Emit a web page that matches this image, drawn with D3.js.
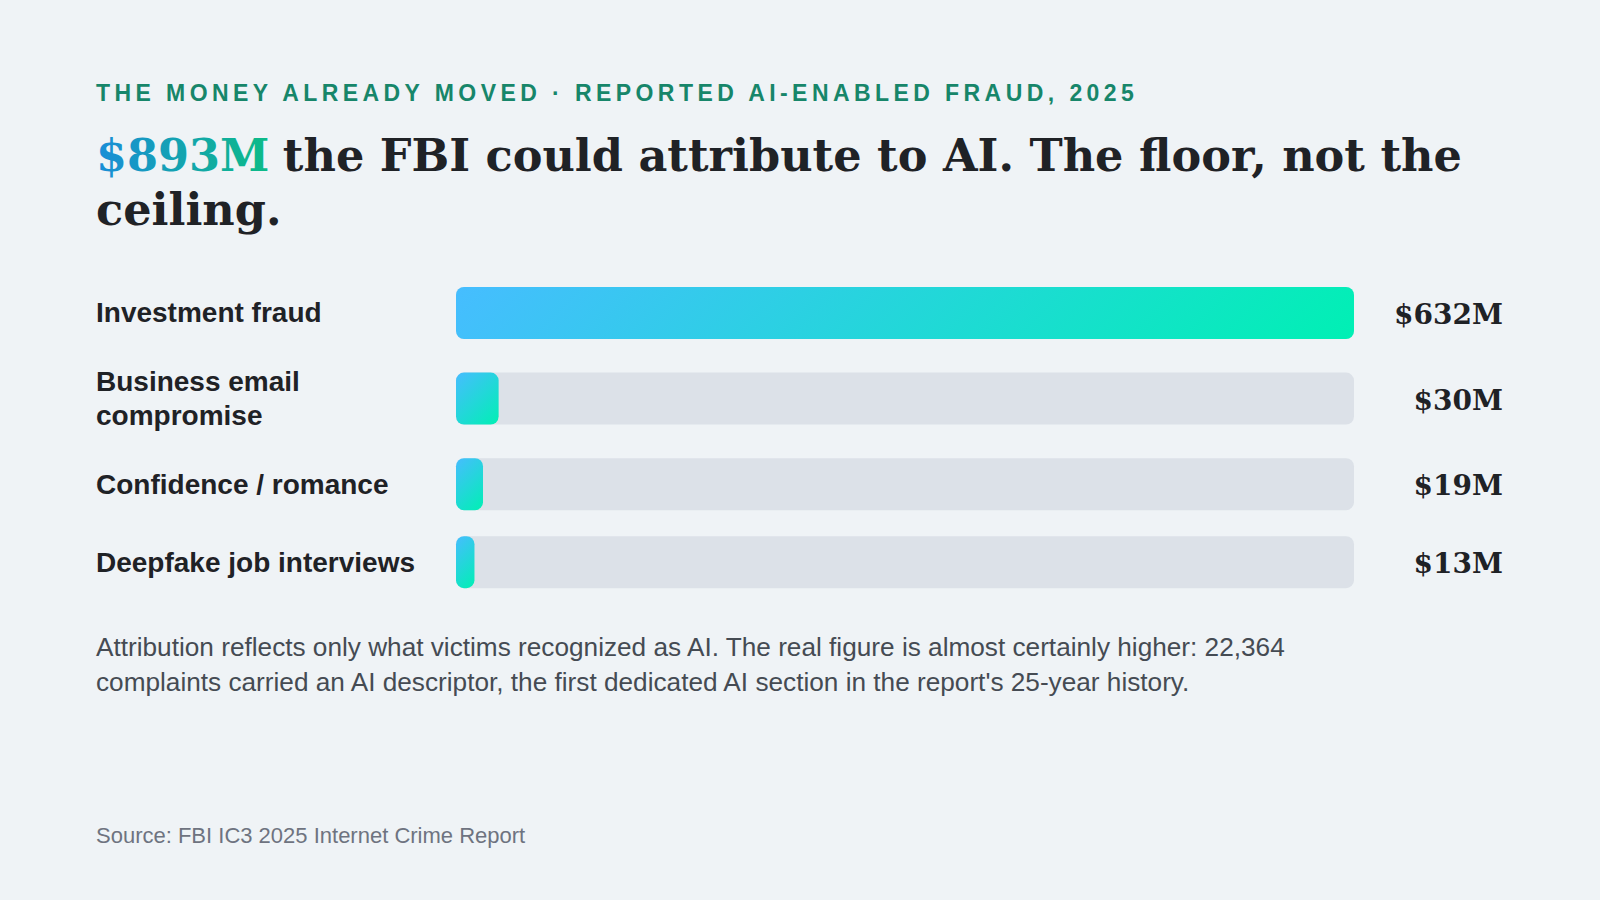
<!DOCTYPE html>
<html>
<head>
<meta charset="utf-8">
<script src="https://cdn.jsdelivr.net/npm/d3@7"></script>
<style>
  body { margin: 0; background: #eff3f6; }
  svg { display: block; }
</style>
</head>
<body>
<svg width="1600" height="900"></svg>
<script>
// data
const categories = ["Investment fraud", "Business email compromise", "Confidence / romance", "Deepfake job interviews"];
const losses = [632, 30, 19, 13];            // $ millions
const valueLabels = ["$632M", "$30M", "$19M", "$13M"];

const kicker = "THE MONEY ALREADY MOVED · REPORTED AI-ENABLED FRAUD, 2025";
const headlineFigure = "$893M";
const headlineLines = ["the FBI could attribute to AI. The floor, not the", "ceiling."];
const noteLines = [
  "Attribution reflects only what victims recognized as AI. The real figure is almost certainly higher: 22,364",
  "complaints carried an AI descriptor, the first dedicated AI section in the report's 25-year history."
];
const source = "Source: FBI IC3 2025 Internet Crime Report";

const sans = "'Liberation Sans', Arial, Helvetica, sans-serif";
const serif = "Georgia, 'DejaVu Serif', serif";

var svg = d3.select("svg");
var defs = svg.append("defs");

var left = 96;

// kicker
svg.append("text")
  .attr("x", left).attr("y", 101)
  .attr("font-family", sans).attr("font-weight", 700)
  .attr("font-size", 23).attr("letter-spacing", "4.43px")
  .attr("fill", "#17866a")
  .text(kicker);

// headline
var titleSize = 44.6;
var titleGrad = defs.append("linearGradient").attr("id", "titleGrad")
  .attr("x1", 0).attr("y1", 0).attr("x2", 1).attr("y2", 0);
titleGrad.append("stop").attr("offset", "0%").attr("stop-color", "#1a8dd8");
titleGrad.append("stop").attr("offset", "100%").attr("stop-color", "#0cbb86");

var fig = svg.append("text")
  .attr("x", left).attr("y", 171)
  .attr("font-family", serif).attr("font-weight", 700).attr("font-size", titleSize)
  .attr("fill", "url(#titleGrad)")
  .text(headlineFigure);
var figW = fig.node().getComputedTextLength();

svg.append("text")
  .attr("x", left + figW + titleSize * 0.3).attr("y", 171)
  .attr("font-family", serif).attr("font-weight", 700).attr("font-size", titleSize)
  .attr("fill", "#1f2226")
  .text(headlineLines[0]);
svg.append("text")
  .attr("x", left).attr("y", 225)
  .attr("font-family", serif).attr("font-weight", 700).attr("font-size", titleSize)
  .attr("fill", "#1f2226")
  .text(headlineLines[1]);

// chart layout
var barLeft = 456, barWidth = 898, barH = 52, rowGap = 26, labelSize = 28, lineH = 33.6;
var valueRight = 1503, chartTop = 287;

// wrap labels to the label column
var measure = svg.append("text").attr("font-family", sans).attr("font-weight", 700).attr("font-size", labelSize);
function wrap(str, maxW) {
  var words = str.split(" "), lines = [], cur = "";
  words.forEach(w => {
    var test = cur ? cur + " " + w : w;
    measure.text(test);
    if (measure.node().getComputedTextLength() > maxW && cur) { lines.push(cur); cur = w; }
    else cur = test;
  });
  lines.push(cur);
  return lines;
}
var labelLines = categories.map(c => wrap(c, 340));
measure.remove();

var rowHeights = labelLines.map(l => Math.max(barH, l.length * lineH));
var rowTops = rowHeights.map((h, i) => chartTop + d3.sum(rowHeights.slice(0, i)) + i * rowGap);

var y = d3.scaleOrdinal().domain(categories).range(rowTops);
var rowH = d3.scaleOrdinal().domain(categories).range(rowHeights);
var x = d3.scaleLinear().domain([0, d3.max(losses)]).range([0, barWidth]);

var data = categories.map((c, i) => ({ category: c, value: losses[i], label: valueLabels[i], lines: labelLines[i] }));
function center(d) { return y(d.category) + rowH(d.category) / 2; }

// per-bar 135deg gradient, like css linear-gradient
data.forEach((d, i) => {
  var w = x(d.value), h = barH;
  var cx = barLeft + w / 2, cy = center(d);
  var L = (w + h) * Math.SQRT1_2, dx = Math.SQRT1_2 * L / 2, dy = Math.SQRT1_2 * L / 2;
  var g = defs.append("linearGradient").attr("id", "barGrad" + i)
    .attr("gradientUnits", "userSpaceOnUse")
    .attr("x1", cx - dx).attr("y1", cy - dy)
    .attr("x2", cx + dx).attr("y2", cy + dy);
  g.append("stop").attr("offset", "0%").attr("stop-color", "#46bdff");
  g.append("stop").attr("offset", "100%").attr("stop-color", "#00f0b4");
});

var rows = svg.append("g").selectAll("g").data(data).enter().append("g");

// track
rows.append("rect")
  .attr("x", barLeft).attr("y", d => center(d) - barH / 2)
  .attr("width", barWidth).attr("height", barH)
  .attr("rx", 8)
  .attr("fill", "#dce1e8");

// bar
rows.append("rect")
  .attr("x", barLeft).attr("y", d => center(d) - barH / 2)
  .attr("width", d => x(d.value)).attr("height", barH)
  .attr("rx", 8)
  .attr("fill", (d, i) => "url(#barGrad" + i + ")");

// category labels
rows.append("text")
  .attr("font-family", sans).attr("font-weight", 700).attr("font-size", labelSize)
  .attr("fill", "#1f2226")
  .each(function(d) {
    var t = d3.select(this);
    var top = center(d) - d.lines.length * lineH / 2;
    d.lines.forEach((ln, j) => {
      t.append("tspan").attr("x", left).attr("y", top + j * lineH + 26.1).text(ln);
    });
  });

// value labels
rows.append("text")
  .attr("x", valueRight).attr("y", d => center(d) + 11)
  .attr("text-anchor", "end")
  .attr("font-family", serif).attr("font-weight", 700).attr("font-size", 28)
  .attr("fill", "#1f2226")
  .text(d => d.label);

// note
svg.append("text")
  .attr("font-family", sans).attr("font-size", 26.2).attr("fill", "#454b53")
  .selectAll("tspan").data(noteLines).enter().append("tspan")
  .attr("x", left).attr("y", (d, i) => 656 + i * 34.5)
  .text(d => d);

// source
svg.append("text")
  .attr("x", left).attr("y", 843)
  .attr("font-family", sans).attr("font-size", 22).attr("fill", "#6e7380")
  .text(source);
</script>
</body>
</html>
